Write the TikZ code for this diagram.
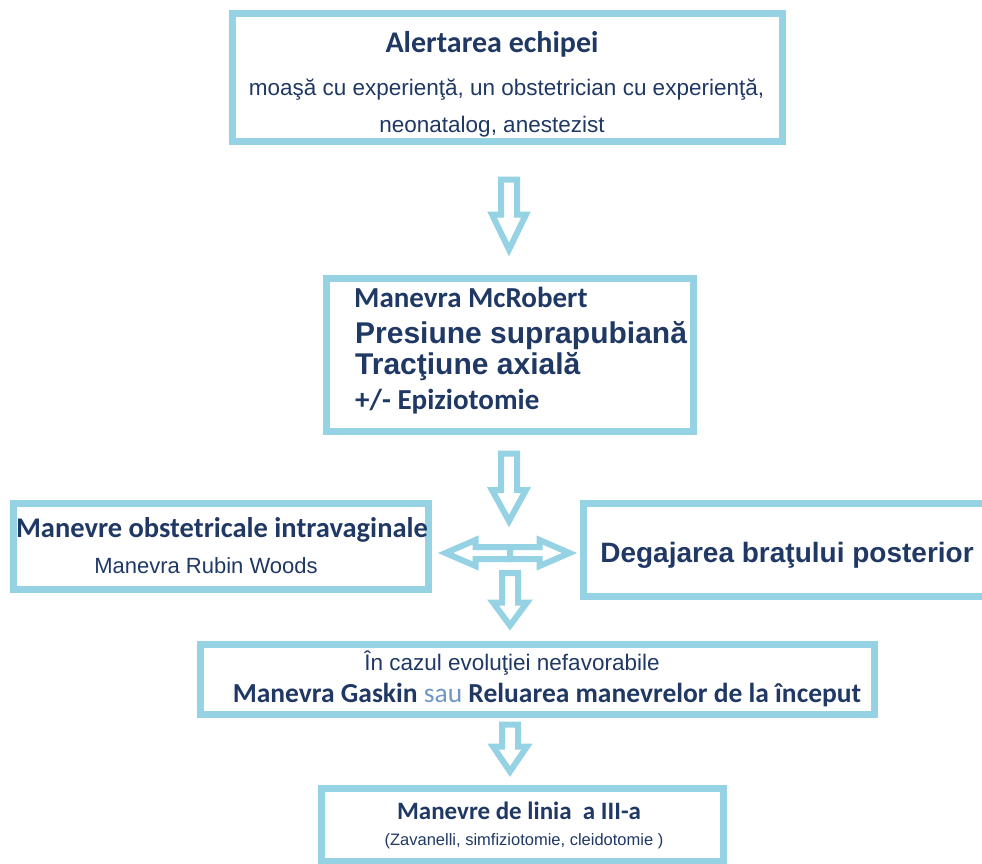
\documentclass[tikz,border=0pt]{standalone}
\usepackage{fontspec}
\setmainfont{Liberation Sans}
\newfontfamily\calibri{Carlito}
\usetikzlibrary{calc}

\definecolor{boxblue}{RGB}{148,210,228}
\definecolor{txtblue}{RGB}{31,56,100}
\definecolor{saublue}{RGB}{112,150,196}

\tikzset{
  box/.style={draw=boxblue, line width=7pt, rectangle, inner sep=0pt},
  blockline/.style={draw=boxblue, line width=6pt, fill=white},
  txt/.style={text=txtblue, inner sep=0pt, anchor=base}
}

\newcommand{\fsz}[1]{\fontsize{#1}{#1}\selectfont}

% hollow block arrow: start, tip, head length, half shaft, half head
\newcommand{\blockarrow}[5]{%
  \path (#1) coordinate (s) (#2) coordinate (t);
  \path ($(t)!#3!(s)$) coordinate (h);
  \draw[blockline] ($(s)!#4!90:(t)$) -- ($(h)!#4!90:(t)$) -- ($(h)!#5!90:(t)$)
    -- (t) -- ($(h)!#5!-90:(t)$) -- ($(h)!#4!-90:(t)$) -- ($(s)!#4!-90:(t)$) -- cycle;
}

\begin{document}
\begin{tikzpicture}[x=1pt,y=-1pt]
\useasboundingbox (0,0) rectangle (982,863);

  % boxes
  \node[box, minimum width=550pt, minimum height=128pt] (alert) at (507.5,77.5) {};
  \node[box, minimum width=367pt, minimum height=153pt] (mcr)   at (510,355) {};
  \node[box, minimum width=415pt, minimum height=86pt]  (intra) at (221,546.5) {};
  \node[box, minimum width=420pt, minimum height=93pt]  (degaj) at (793.5,550) {};
  \node[box, minimum width=674pt, minimum height=70pt]  (evol)  at (537.5,679.5) {};
  \node[box, minimum width=402pt, minimum height=73pt]  (linia) at (522.5,825) {};

  % texts
  \node[txt, font=\calibri\bfseries\fsz{30}] (alertT) at (492,52) {Alertarea echipei};
  \node[txt, font=\fsz{22.5}] (alertA) at (506.5,95) {moaşă cu experienţă, un obstetrician cu experienţă,};
  \node[txt, font=\fsz{22.5}] (alertB) at (492,132) {neonatalog, anestezist};

  \node[txt, anchor=base west, font=\calibri\bfseries\fsz{29}] (mcr1) at (354,307) {Manevra McRobert};
  \node[txt, anchor=base west, font=\bfseries\fsz{30}] (mcr2) at (355,343) {Presiune suprapubiană};
  \node[txt, anchor=base west, font=\bfseries\fsz{30}] (mcr3) at (355,374) {Tracţiune axială};
  \node[txt, anchor=base west, font=\calibri\bfseries\fsz{29}] (mcr4) at (355,409) {+/- Epiziotomie};

  \node[txt, font=\calibri\bfseries\fsz{28.5}] (intra1) at (222,537) {Manevre obstetricale intravaginale};
  \node[txt, font=\fsz{22}] (intra2) at (206,573) {Manevra Rubin Woods};

  \node[txt, font=\bfseries\fsz{28}] (degajT) at (787,562) {Degajarea braţului posterior};

  \node[txt, font=\fsz{22.5}] (evol1) at (512,670) {În cazul evoluţiei nefavorabile};
  \node[txt, font=\calibri\bfseries\fsz{27.5}] (evol2) at (547,702) {Manevra Gaskin {\mdseries\color{saublue}sau} Reluarea manevrelor de la început};

  \node[txt, font=\calibri\bfseries\fsz{25}] (linia1) at (519,819) {Manevre de linia~ a III-a};
  \node[txt, font=\fsz{16.5}] (linia2) at (524,845) {(Zavanelli, simfiziotomie, cleidotomie )};

  % arrows
  \coordinate (hub) at (510,553);
  \blockarrow{$(alert.south)+(1.5,34.5)$}{$(mcr.north)+(-1,-25.5)$}{35pt}{8pt}{17pt}
  \blockarrow{$(mcr.south)+(-1,18.5)$}{$(hub)+(-1,-32)$}{31pt}{8pt}{17pt}
  \blockarrow{hub}{$(intra.east)+(13.5,6.5)$}{30pt}{6pt}{13pt}
  \blockarrow{hub}{$(degaj.west)+(-10.5,3)$}{30pt}{6pt}{13pt}
  \blockarrow{$(hub)+(0,20)$}{$(evol.north)+(-27.5,-15.5)$}{23pt}{8pt}{17pt}
  \blockarrow{$(evol.south)+(-27.5,6.5)$}{$(linia.north)+(-12.5,-13.5)$}{25pt}{8pt}{17pt}

\end{tikzpicture}
\end{document}
